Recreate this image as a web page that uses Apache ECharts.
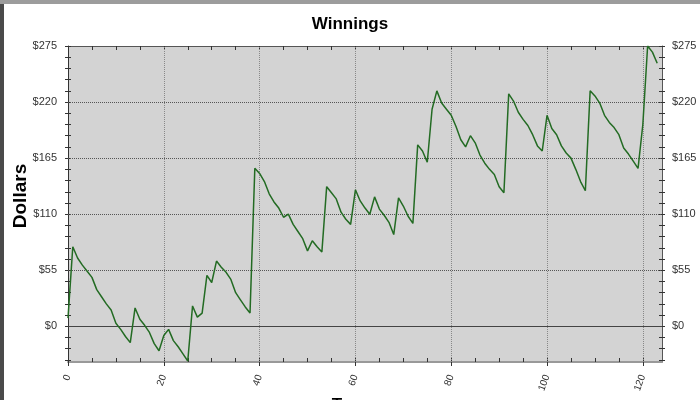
<!DOCTYPE html>
<html><head><meta charset="utf-8">
<script src="https://cdn.jsdelivr.net/npm/echarts@6/dist/echarts.min.js"></script>
<style>html,body{margin:0;padding:0;background:#fff}#c{width:700px;height:400px}</style>
</head><body><div id="c"></div>
<script>
const turns = [0,1,2,3,4,5,6,7,8,9,10,11,12,13,14,15,16,17,18,19,20,21,22,23,24,25,26,27,28,29,30,31,32,33,34,35,36,37,38,39,40,41,42,43,44,45,46,47,48,49,50,51,52,53,54,55,56,57,58,59,60,61,62,63,64,65,66,67,68,69,70,71,72,73,74,75,76,77,78,79,80,81,82,83,84,85,86,87,88,89,90,91,92,93,94,95,96,97,98,99,100,101,102,103,104,105,106,107,108,109,110,111,112,113,114,115,116,117,118,119,120,121,122,123];
const winnings = [8,78,67,60,54,48,36,29,22,16,3,-3,-10,-16,18,7,1,-6,-17,-24,-9,-3,-14,-20,-27,-34,20,9,13,50,43,64,58,53,46,33,26,19,13,155,150,142,130,122,116,107,110,100,93,86,74,84,78,73,137,131,125,112,105,100,134,123,116,110,127,115,109,102,90,126,118,108,101,178,172,161,213,231,219,213,207,196,183,176,187,180,168,160,154,149,137,131,228,221,210,203,197,188,177,172,207,194,188,177,170,165,154,142,133,231,226,219,207,200,195,188,175,169,162,155,198,275,269,258];
const yLabelValues = [0,55,110,165,220,275];
const yTickValues = [-33,-22,-11,0,11,22,33,44,55,66,77,88,99,110,121,132,143,154,165,176,187,198,209,220,231,242,253,264,275];
const yGridValues = [55,110,165,220];
const xLabelValues = [0,20,40,60,80,100,120];
const xTickValues = [0,5,10,15,20,25,30,35,40,45,50,55,60,65,70,75,80,85,90,95,100,105,110,115,120];
const xGridValues = [20,40,60,80,100,120];

const FONT = 'Liberation Sans, Arial, sans-serif';
const chart = echarts.init(document.getElementById('c'), null, {renderer:'canvas'});
const Y = {min:-35, max:275};
const X = {min:0, max:124};
const tickStyle = {color:'#333', width:1};

const gridLines = [{yAxis:0, lineStyle:{type:'solid', color:'#444', width:1}}];
yGridValues.forEach(v => gridLines.push({yAxis:v, lineStyle:{type:'dotted', color:'#555', width:1}}));
xGridValues.forEach(v => gridLines.push({xAxis:v, lineStyle:{type:'dotted', color:'#888', width:1}}));

chart.setOption({
  animation:false,
  backgroundColor:'#fff',
  title:{text:'Winnings', left:'center', top:11, textStyle:{fontFamily:FONT, fontSize:17, fontWeight:'bold', color:'#000'}},
  grid:{left:68, right:38, top:46, bottom:38, show:true, backgroundColor:'#d3d3d3', borderWidth:0, containLabel:false, outerBoundsMode:'none'},
  graphic:[
    {type:'rect', left:0, top:0, shape:{width:4, height:400}, style:{fill:'#4a4a4a'}, z:100},
    {type:'rect', left:0, top:0, shape:{width:700, height:4}, style:{fill:'#9c9c9c'}, z:100}
  ],
  xAxis:[
    {type:'value', position:'bottom', ...X,
      axisLine:{show:true, onZero:false, lineStyle:{color:'#999', width:2}},
      axisTick:{show:true, customValues:xTickValues, inside:true, length:4, lineStyle:tickStyle},
      axisLabel:{customValues:xLabelValues, rotate:70, fontSize:10, color:'#333', fontFamily:FONT, margin:13},
      splitLine:{show:false},
      name:'Turn', nameLocation:'middle', nameGap:35, nameMoveOverlap:false,
      nameTextStyle:{fontFamily:FONT, fontWeight:'bold', fontSize:17, color:'#000', padding:[0,30,0,0]}
    },
    {type:'value', position:'bottom', ...X,
      axisLine:{show:false, onZero:false},
      axisTick:{show:true, customValues:xLabelValues, inside:false, length:4, lineStyle:tickStyle},
      axisLabel:{show:false}, splitLine:{show:false}
    },
    {type:'value', position:'top', ...X,
      axisLine:{show:true, onZero:false, lineStyle:{color:'#555', width:1}},
      axisTick:{show:true, customValues:xTickValues, inside:true, length:4, lineStyle:tickStyle},
      axisLabel:{show:false}, splitLine:{show:false}
    }
  ],
  yAxis:[
    {type:'value', position:'left', ...Y,
      axisLine:{show:true, onZero:false, lineStyle:{color:'#333', width:1}},
      axisTick:{show:true, customValues:yTickValues, inside:false, length:3, lineStyle:tickStyle},
      axisLabel:{customValues:yLabelValues, formatter:'${value}', fontSize:11, color:'#333', fontFamily:FONT, margin:11},
      splitLine:{show:false},
      name:'Dollars', nameLocation:'middle', nameRotate:90, nameGap:38, nameMoveOverlap:false,
      nameTextStyle:{fontFamily:FONT, fontWeight:'bold', fontSize:19, color:'#000', padding:[0,0,0,16]}
    },
    {type:'value', position:'left', ...Y,
      axisLine:{show:false, onZero:false},
      axisTick:{show:true, customValues:yTickValues, inside:true, length:3, lineStyle:tickStyle},
      axisLabel:{show:false}, splitLine:{show:false}
    },
    {type:'value', position:'right', ...Y,
      axisLine:{show:true, onZero:false, lineStyle:{color:'#555', width:1}},
      axisTick:{show:true, customValues:yTickValues, inside:false, length:3, lineStyle:tickStyle},
      axisLabel:{customValues:yLabelValues, formatter:'${value}', fontSize:11, color:'#333', fontFamily:FONT, margin:10},
      splitLine:{show:false}
    },
    {type:'value', position:'right', ...Y,
      axisLine:{show:false, onZero:false},
      axisTick:{show:true, customValues:yTickValues, inside:true, length:3, lineStyle:tickStyle},
      axisLabel:{show:false}, splitLine:{show:false}
    }
  ],
  series:[
    {type:'line', name:'grid', data:[], xAxisIndex:0, yAxisIndex:0, z:1,
      markLine:{silent:true, symbol:'none', label:{show:false}, animation:false, data:gridLines}
    },
    {type:'line', name:'Winnings', xAxisIndex:0, yAxisIndex:0, z:5,
      data:turns.map((t,i)=>[t, winnings[i]]),
      symbol:'none', showSymbol:false,
      lineStyle:{color:'#236b23', width:1.5}
    }
  ]
});
</script></body></html>
